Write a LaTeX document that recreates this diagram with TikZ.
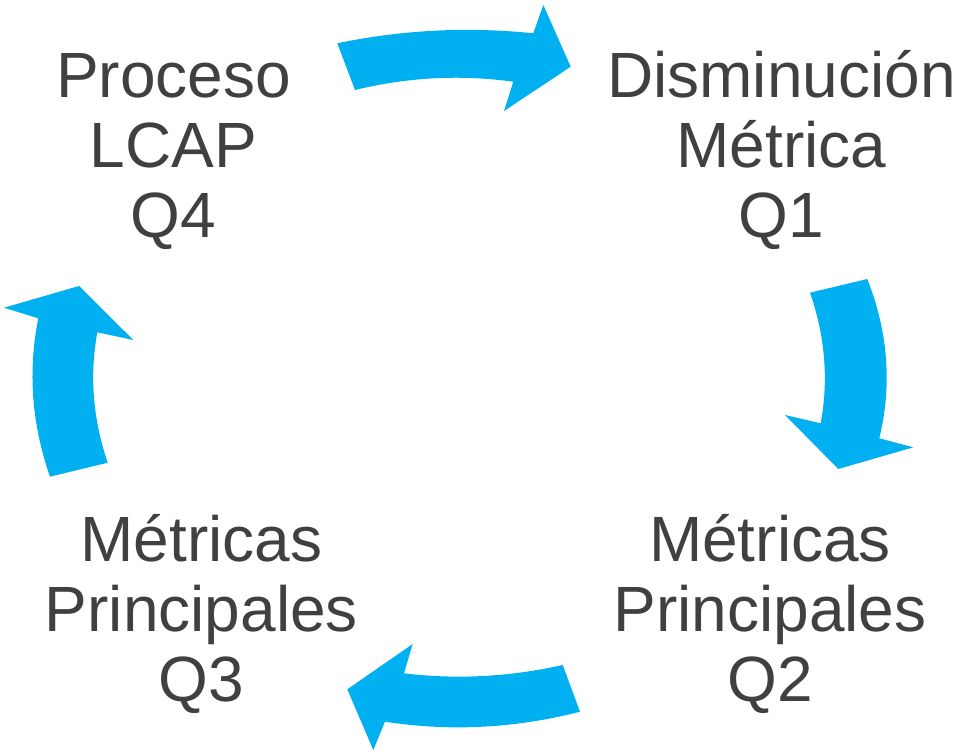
\documentclass[tikz,border=0pt]{standalone}
\usepackage{fontspec}
\setmainfont{Liberation Sans}
\definecolor{arrowblue}{HTML}{00B0F0}
\definecolor{labelgray}{HTML}{404040}
\newcommand{\lstrut}{\rule[-16pt]{0pt}{69pt}}
\begin{document}
\begin{tikzpicture}[x=1pt,y=-1pt,
  cyclearrow/.style={fill=arrowblue,draw=none},
  steplabel/.style={anchor=north,inner sep=0pt,align=center,text=labelgray,
    font=\fontsize{64}{70}\selectfont}]
\useasboundingbox (0,0) rectangle (962,752);
% labels (north = first baseline - 53)
\node[steplabel] (q4) at (173.5,44) {\lstrut Proceso\\\lstrut LCAP\\\lstrut Q4};
\node[steplabel] (q1) at (781.5,44) {\lstrut Disminución\\\lstrut Métrica\\\lstrut Q1};
\node[steplabel] (q3) at (201.5,508.5) {\lstrut Métricas\\\lstrut Principales\\\lstrut Q3};
\node[steplabel] (q2) at (770,508.5) {\lstrut Métricas\\\lstrut Principales\\\lstrut Q2};
% arrow Q4 -> Q1 (top)
\fill[cyclearrow] (337.3,43.3) .. controls (402.2,29.8) and (467.6,26.5) .. (533.3,33.3)
  -- (543.3,5) -- (570.7,66.7) -- (504,111) -- (513.3,81.7)
  .. controls (460.3,74.4) and (407.6,77.2) .. (355,90) -- cycle;
% arrow Q1 -> Q2 (right)
\fill[cyclearrow] (867.3,279) .. controls (888.2,332.2) and (892.2,385.3) .. (879.3,438.3)
  -- (913.3,447.3) -- (838.3,469) -- (785,415) -- (820.7,423.3)
  .. controls (828.7,379.8) and (825.1,336.2) .. (810,292.7) -- cycle;
% arrow Q2 -> Q3 (bottom)
\fill[cyclearrow] (562.7,665) .. controls (509.3,676.9) and (456.4,679.7) .. (404,673.3)
  -- (412.7,644) -- (347.3,689.3) -- (373.3,750) -- (385,721.7)
  .. controls (450,731.7) and (515,728.4) .. (580,711.7) -- cycle;
% arrow Q3 -> Q4 (left)
\fill[cyclearrow] (107.7,462.7) .. controls (92.9,419.2) and (89.4,375.8) .. (97.3,332.3)
  -- (133.3,340) -- (79,286) -- (4,307.7) -- (38.3,318.3)
  .. controls (27.7,371.1) and (31.6,423.9) .. (50,476.7) -- cycle;
\end{tikzpicture}
\end{document}
